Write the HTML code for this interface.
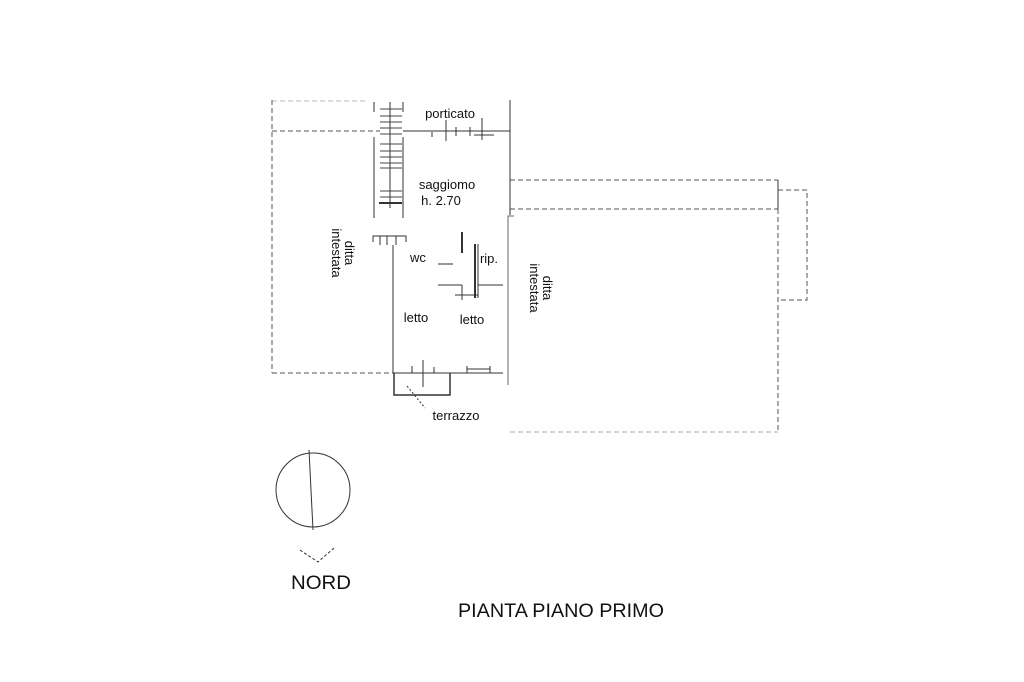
<!DOCTYPE html>
<html><head><meta charset="utf-8"><style>
html,body{margin:0;padding:0;background:#fff;}
svg{display:block;}
text{font-family:"Liberation Sans",sans-serif;fill:#111;}
</style></head><body>
<svg width="1024" height="682" viewBox="0 0 1024 682" xmlns="http://www.w3.org/2000/svg">
<g fill="none" stroke="#555" stroke-width="1" stroke-dasharray="5,3">
  <line x1="272" y1="101" x2="365" y2="101" stroke="#bbb"/>
  <line x1="272" y1="100" x2="272" y2="373"/>
  <line x1="272" y1="131" x2="380" y2="131"/>
  <line x1="272" y1="373" x2="393" y2="373"/>
  <line x1="510" y1="180" x2="778" y2="180"/>
  <line x1="510" y1="209" x2="778" y2="209"/>
  <line x1="778" y1="209" x2="778" y2="432"/>
  <line x1="510" y1="432" x2="778" y2="432" stroke="#aaa"/>
  <polyline points="778,190 807,190 807,300 778,300"/>
</g>
<g fill="none" stroke="#333" stroke-width="1">
  <line x1="403" y1="131" x2="510" y2="131"/>
  <line x1="510" y1="100" x2="510" y2="215"/>
  <line x1="778" y1="180" x2="778" y2="209"/>
  <polyline points="514,216 508,216 508,385" stroke="#666"/>
  <line x1="374" y1="102" x2="374" y2="112"/>
  <line x1="403" y1="102" x2="403" y2="112"/>
  <line x1="374" y1="137" x2="374" y2="218"/>
  <line x1="403" y1="137" x2="403" y2="218"/>
  <line x1="390" y1="102" x2="390" y2="208"/>
  <g stroke="#444">
    <line x1="380" y1="109" x2="402" y2="109"/>
    <line x1="380" y1="116" x2="402" y2="116"/>
    <line x1="380" y1="122" x2="402" y2="122"/>
    <line x1="380" y1="128" x2="402" y2="128"/>
    <line x1="380" y1="134" x2="402" y2="134"/>
    <line x1="380" y1="144" x2="402" y2="144"/>
    <line x1="380" y1="151" x2="402" y2="151"/>
    <line x1="380" y1="157" x2="402" y2="157"/>
    <line x1="380" y1="163" x2="402" y2="163"/>
    <line x1="380" y1="168" x2="402" y2="168"/>
    <line x1="380" y1="191" x2="402" y2="191"/>
    <line x1="380" y1="197" x2="402" y2="197"/>
  </g>
  <line x1="379" y1="203" x2="402" y2="203" stroke-width="2"/>
  <line x1="432" y1="132" x2="432" y2="137"/>
  <line x1="446" y1="120" x2="446" y2="141"/>
  <line x1="456" y1="127" x2="456" y2="136"/>
  <line x1="470" y1="127" x2="470" y2="136"/>
  <line x1="482" y1="118" x2="482" y2="140"/>
  <line x1="474" y1="135" x2="494" y2="135"/>
  <polyline points="373,242 373,236 406,236 406,242"/>
  <line x1="380" y1="236" x2="380" y2="245"/>
  <line x1="387" y1="236" x2="387" y2="245"/>
  <line x1="396" y1="236" x2="396" y2="245"/>
  <line x1="393" y1="245" x2="393" y2="373"/>
  <line x1="438" y1="264" x2="453" y2="264"/>
  <line x1="462" y1="232" x2="462" y2="253" stroke-width="2"/>
  <line x1="475" y1="244" x2="475" y2="298" stroke-width="2"/>
  <line x1="478" y1="244" x2="478" y2="298"/>
  <line x1="438" y1="285" x2="462" y2="285"/>
  <line x1="462" y1="285" x2="462" y2="300"/>
  <line x1="478" y1="285" x2="503" y2="285"/>
  <line x1="455" y1="295" x2="478" y2="295"/>
  <line x1="393" y1="373" x2="503" y2="373"/>
  <line x1="412" y1="366" x2="412" y2="373"/>
  <line x1="423" y1="360" x2="423" y2="387"/>
  <line x1="434" y1="367" x2="434" y2="373"/>
  <line x1="467" y1="369" x2="490" y2="369"/>
  <line x1="467" y1="366" x2="467" y2="373"/>
  <line x1="490" y1="366" x2="490" y2="373"/>
  <polyline points="394,373 394,395 450,395 450,373" stroke-width="1.5"/>
  <line x1="407" y1="386" x2="425" y2="408" stroke-dasharray="2,2"/>
  <circle cx="313" cy="490" r="37"/>
  <line x1="309" y1="450" x2="313" y2="530"/>
  <polyline points="300,550 318,562 334,548" stroke-dasharray="3,2"/>
</g>
<text x="450" y="118" font-size="13" text-anchor="middle">porticato</text>
<text x="447" y="189" font-size="13" text-anchor="middle">saggiomo</text>
<text x="441" y="205" font-size="13" text-anchor="middle">h. 2.70</text>
<text x="418" y="262" font-size="13" text-anchor="middle">wc</text>
<text x="489" y="263" font-size="13" text-anchor="middle">rip.</text>
<text x="416" y="322" font-size="13" text-anchor="middle">letto</text>
<text x="472" y="324" font-size="13" text-anchor="middle">letto</text>
<text x="456" y="420" font-size="13" text-anchor="middle">terrazzo</text>
<g transform="translate(340,253) rotate(90)"><text x="0" y="-5" font-size="13" text-anchor="middle">ditta</text><text x="0" y="8" font-size="13" text-anchor="middle">intestata</text></g>
<g transform="translate(538,288) rotate(90)"><text x="0" y="-5" font-size="13" text-anchor="middle">ditta</text><text x="0" y="8" font-size="13" text-anchor="middle">intestata</text></g>
<text x="291" y="589" font-size="19" textLength="60" lengthAdjust="spacingAndGlyphs">NORD</text>
<text x="458" y="617" font-size="19" textLength="206" lengthAdjust="spacingAndGlyphs">PIANTA PIANO PRIMO</text>
</svg>
</body></html>
